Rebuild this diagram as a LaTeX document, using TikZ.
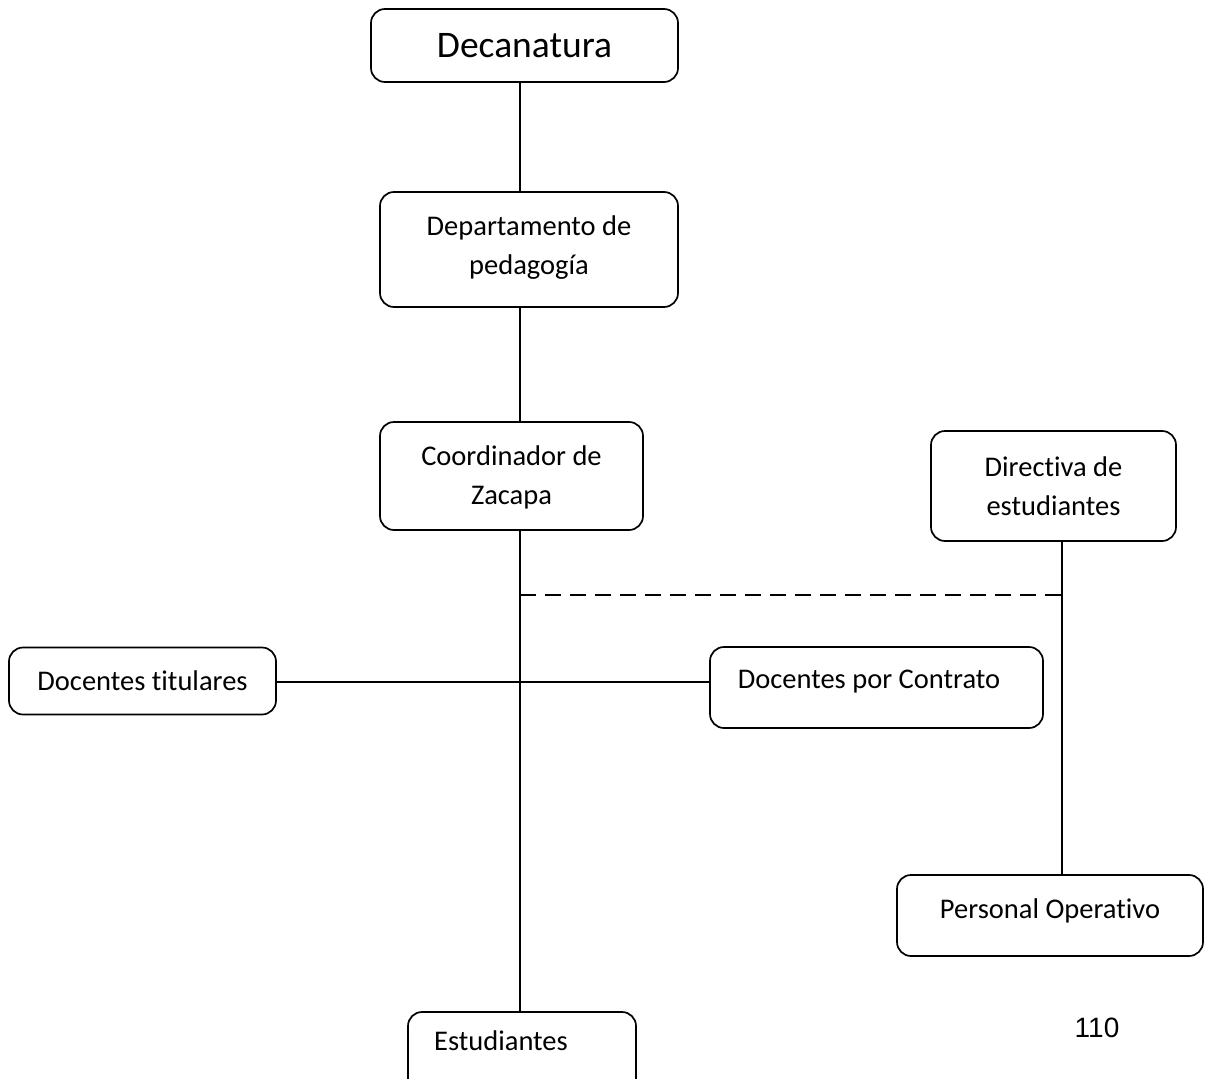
\documentclass[tikz,border=0pt]{standalone}
\usepackage{fontspec}
\setmainfont[Ligatures=NoCommon]{Carlito}
\newfontfamily\numfont{Liberation Sans}
\begin{document}
\begin{tikzpicture}[x=1pt,y=-1pt,
  orgbox/.style={draw, line width=1.7pt, rounded corners=14pt, inner sep=0pt},
  txt/.style={font=\fontsize{28.5}{39}\selectfont, align=center, inner sep=0pt},
  link/.style={line width=1.7pt},
  dashlink/.style={line width=1.7pt, dash pattern=on 16pt off 9pt}]
\useasboundingbox (0,0) rectangle (1206,1078);
\begin{scope}
\clip (0,0) rectangle (1206,1078);
% boxes
\node[orgbox, minimum width=307pt, minimum height=73pt] (dec) at (524.5,45.5) {};
\node[orgbox, minimum width=298pt, minimum height=115pt] (dep) at (529,249.5) {};
\node[orgbox, minimum width=263pt, minimum height=108pt] (coo) at (511.5,476) {};
\node[orgbox, minimum width=245pt, minimum height=110pt] (dir) at (1053.5,486) {};
\node[orgbox, minimum width=267pt, minimum height=67pt] (dtit) at (142.5,681) {};
\node[orgbox, minimum width=333pt, minimum height=81pt] (dcon) at (876.5,687.5) {};
\node[orgbox, minimum width=306pt, minimum height=81pt] (per) at (1050,915.5) {};
\node[orgbox, minimum width=228pt, minimum height=100pt] (est) at (522,1062) {};
% texts
\node[txt, font=\fontsize{37.5}{45}\selectfont] (dect) at (524.5,46) {Decanatura};
\node[txt] (dept) at (529,248) {Departamento de\\pedagogía};
\node[txt] (coot) at (511.5,477) {Coordinador de\\Zacapa};
\node[txt] (dirt) at (1053.5,486) {Directiva de\\estudiantes};
\node[txt] (dtitt) at (142.5,681) {Docentes titulares};
\node[txt] (dcont) at (869,682) {Docentes por Contrato};
\node[txt] (pert) at (1050,911) {Personal Operativo};
\node[txt] (estt) at (501,1041) {Estudiantes};
\node[font=\numfont\fontsize{28}{34}\selectfont, inner sep=0pt] (num) at (1097,1028) {110};
% connectors
\coordinate (spine) at (520,0);
\coordinate (right) at (1062,0);
\coordinate (midy) at (0,682);
\draw[link] (dec.south -| spine) -- (dep.north -| spine);
\draw[link] (dep.south -| spine) -- (coo.north -| spine);
\draw[link] (coo.south -| spine) -- (est.north -| spine);
\draw[link] (dtit.east |- midy) -- (dcon.west |- midy);
\draw[link] (dir.south -| right) -- (per.north -| right);
\coordinate (dashy) at (0,595);
\draw[dashlink] (spine |- dashy) -- (right |- dashy);
\end{scope}
\end{tikzpicture}
\end{document}
